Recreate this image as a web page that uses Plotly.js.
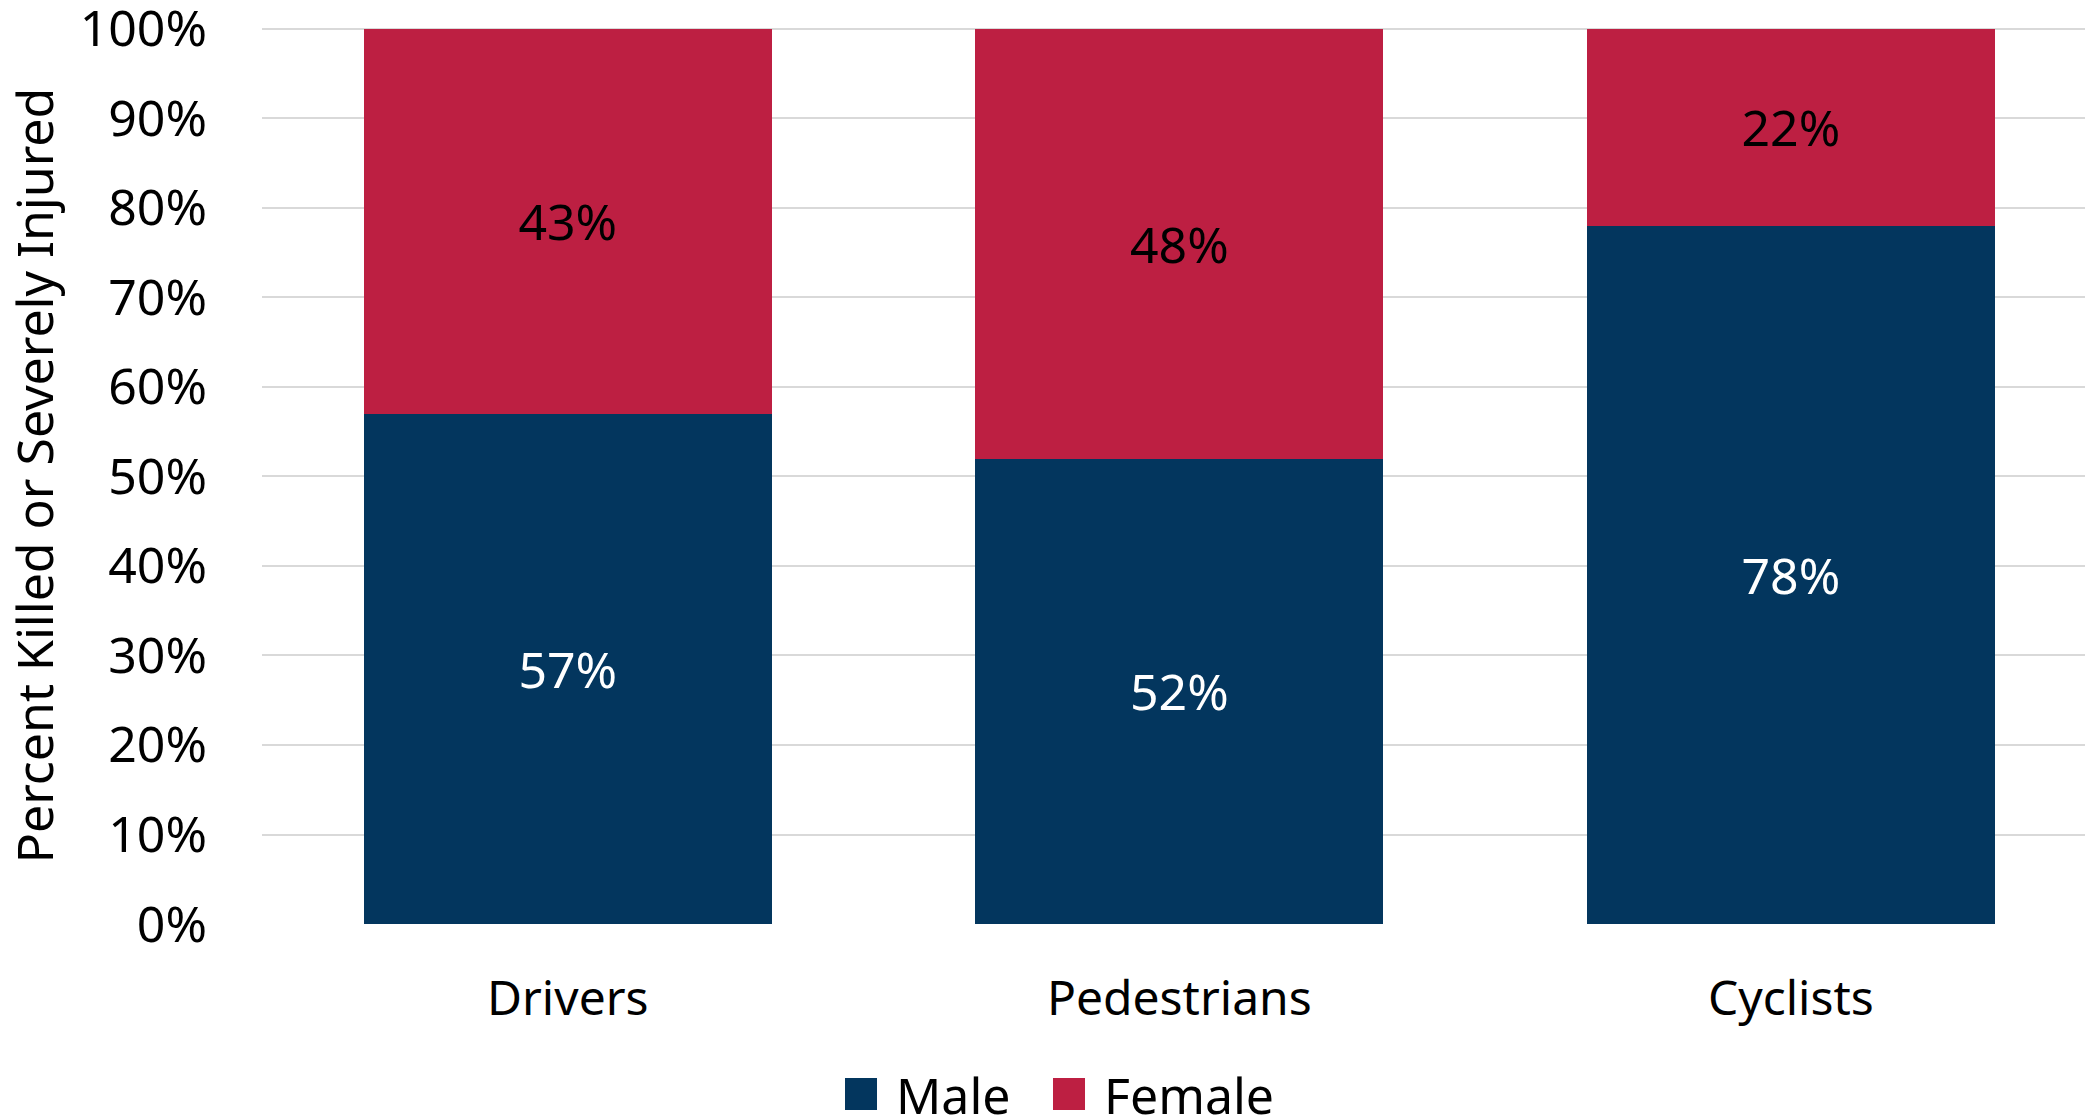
<!DOCTYPE html>
<html>
<head>
<meta charset="utf-8">
<script src="https://cdn.plot.ly/plotly-3.0.1.min.js"></script>
<style>
  html, body { margin: 0; padding: 0; background: #ffffff; overflow: hidden; }
  #chart { width: 2085px; height: 1115px; }
</style>
</head>
<body>
<div id="chart"></div>
<script>
const categories = ["Drivers", "Pedestrians", "Cyclists"];
const maleValues = [57, 52, 78];
const femaleValues = [43, 48, 22];
const seriesNames = ["Male", "Female"];
const yTickValues = [0, 10, 20, 30, 40, 50, 60, 70, 80, 90, 100];
const yTickLabels = ["0%", "10%", "20%", "30%", "40%", "50%", "60%", "70%", "80%", "90%", "100%"];

const FONT = "'Noto Sans', 'Open Sans', sans-serif";
const NAVY = "#03365e";
const RED = "#bd1f42";

const traces = [
  {
    type: "bar", name: seriesNames[0], x: categories, y: maleValues,
    marker: { color: NAVY },
    texttemplate: "%{y}%", textposition: "inside", insidetextanchor: "middle",
    textangle: 0, constraintext: "none",
    textfont: { family: FONT, size: 50, color: "#ffffff" },
    hoverinfo: "skip"
  },
  {
    type: "bar", name: seriesNames[1], x: categories, y: femaleValues,
    marker: { color: RED },
    texttemplate: "%{y}%", textposition: "inside", insidetextanchor: "middle",
    textangle: 0, constraintext: "none",
    textfont: { family: FONT, size: 50, color: "#000000" },
    hoverinfo: "skip"
  }
];

const layout = {
  width: 2085, height: 1115,
  margin: { l: 262, r: 0, t: 27, b: 191, pad: 0 },
  paper_bgcolor: "#ffffff", plot_bgcolor: "#ffffff",
  font: { family: FONT, size: 48, color: "#000000" },
  barmode: "stack",
  bargap: 0.333,
  showlegend: true,
  legend: {
    orientation: "h", xref: "container", yref: "container",
    x: 0.4, xanchor: "left", y: 0.12, yanchor: "top",
    entrywidth: 163, entrywidthmode: "pixels", itemwidth: 30,
    font: { family: FONT, size: 50, color: "#000000" },
    traceorder: "normal", itemclick: false, itemdoubleclick: false
  },
  xaxis: {
    type: "category", range: [-0.5, 2.481], fixedrange: true,
    showgrid: false, zeroline: false, showline: false, ticks: "",
    ticklabelstandoff: 42,
    tickfont: { family: FONT, size: 48, color: "#000000" }
  },
  yaxis: {
    range: [0, 100.22], fixedrange: true,
    tickmode: "array", tickvals: yTickValues, ticktext: yTickLabels,
    ticklabeloverflow: "allow",
    showgrid: true, gridcolor: "#d9d9d9", gridwidth: 2,
    zeroline: false, showline: false, ticks: "",
    ticklabelstandoff: 54,
    tickfont: { family: FONT, size: 50, color: "#000000" },
    title: { text: "Percent Killed or Severely Injured", standoff: 12,
             font: { family: FONT, size: 50, color: "#000000" } }
  }
};

Plotly.newPlot("chart", traces, layout, { staticPlot: true, displayModeBar: false }).then(function (gd) {
  // enlarge legend swatches to the reference square size (32px)
  gd.querySelectorAll(".legend .legendpoints path").forEach(function (p) {
    p.setAttribute("transform", "translate(16,0) scale(2.667)");
  });
  gd.querySelectorAll(".legend .legendtext").forEach(function (t) {
    t.setAttribute("x", "51");
  });
  const leg = gd.querySelector(".legend");
  if (leg) {
    // do not clip the (now slightly wider) legend entries
    leg.querySelectorAll("[clip-path]").forEach(function (e) { e.removeAttribute("clip-path"); });
    // place the legend so the first swatch sits where the reference has it
    const firstSwatch = leg.querySelector(".legendpoints path");
    if (firstSwatch) {
      const r = firstSwatch.getBoundingClientRect();
      const m = /translate\(\s*([-\d.]+)[ ,]+([-\d.]+)\s*\)/.exec(leg.getAttribute("transform") || "");
      const tx = m ? parseFloat(m[1]) : 0;
      const ty = m ? parseFloat(m[2]) : 0;
      const dx = 845 - r.left;
      const dy = 1078 - r.top;
      leg.setAttribute("transform", "translate(" + (tx + dx) + "," + (ty + dy) + ")");
    }
  }
});
</script>
</body>
</html>
